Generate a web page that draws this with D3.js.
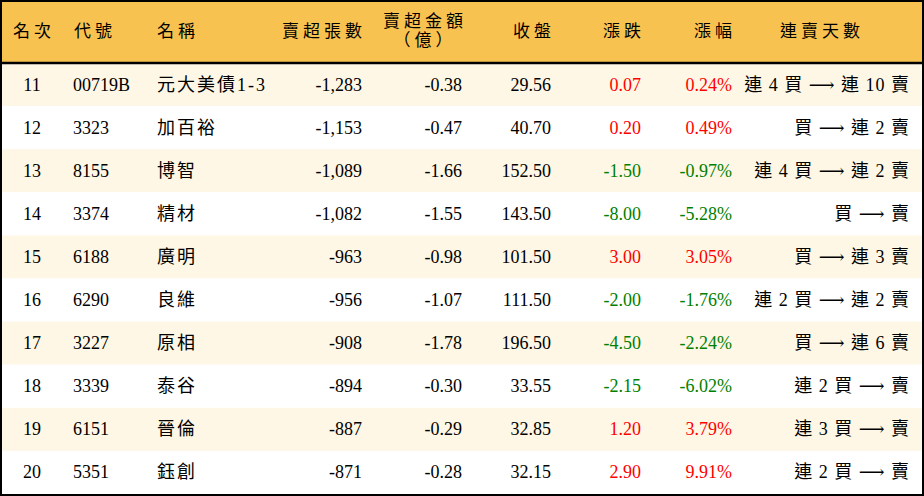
<!DOCTYPE html>
<html><head><meta charset="utf-8">
<script src="https://cdn.jsdelivr.net/npm/d3@7"></script>
<style>body{margin:0;background:#fff}</style>
</head><body><svg id="c" width="924" height="496"></svg>
<script>
const ranks = [11,12,13,14,15,16,17,18,19,20];
const codes = ["00719B","3323","8155","3374","6188","6290","3227","3339","6151","5351"];
const names = ["元大美債1-3","加百裕","博智","精材","廣明","良維","原相","泰谷","晉倫","鈺創"];
const sellLots = ["-1,283","-1,153","-1,089","-1,082","-963","-956","-908","-894","-887","-871"];
const sellAmt = ["-0.38","-0.47","-1.66","-1.55","-0.98","-1.07","-1.78","-0.30","-0.29","-0.28"];
const closes = ["29.56","40.70","152.50","143.50","101.50","111.50","196.50","33.55","32.85","32.15"];
const changes = [0.07,0.20,-1.50,-8.00,3.00,-2.00,-4.50,-2.15,1.20,2.90];
const pcts = [0.24,0.49,-0.97,-5.28,3.05,-1.76,-2.24,-6.02,3.79,9.91];
const streaks = ["連 4 買 ⟶ 連 10 賣","買 ⟶ 連 2 賣","連 4 買 ⟶ 連 2 賣","買 ⟶ 賣","買 ⟶ 連 3 賣","連 2 買 ⟶ 連 2 賣","買 ⟶ 連 6 賣","連 2 買 ⟶ 賣","連 3 買 ⟶ 賣","連 2 買 ⟶ 賣"];

const W = 924, H = 496, headH = 63;
const svg = d3.select("#c");
const font = "'Liberation Serif','DejaVu Serif','Noto Sans CJK TC',serif";
const y = d3.scaleBand().domain(ranks).range([headH, H - 2]);

svg.append("rect").attr("width", W).attr("height", headH).attr("fill", "#F8C250");
svg.selectAll("rect.row").data(ranks).join("rect")
  .attr("x", 0).attr("y", d => y(d)).attr("width", W).attr("height", y.bandwidth())
  .attr("fill", (d, i) => i % 2 ? "#fff" : "#FEF7E6");
svg.append("line").attr("x1", 0).attr("x2", W).attr("y1", headH).attr("y2", headH)
  .attr("stroke", "#000").attr("stroke-width", 2.5);
svg.append("rect").attr("x", 1).attr("y", 1).attr("width", W - 2).attr("height", H - 2)
  .attr("fill", "none").attr("stroke", "#000").attr("stroke-width", 2);

const col = (d) => d >= 0 ? "#FF0000" : "#008000";
const cols = [
  {h: ["名次"], hx: 34, ha: "middle", x: 32, a: "middle", v: i => ranks[i]},
  {h: ["代號"], hx: 74, ha: "start", x: 73, a: "start", v: i => codes[i]},
  {h: ["名稱"], hx: 157, ha: "start", x: 157, a: "start", v: i => names[i], ls: 2},
  {h: ["賣超張數"], hx: 366, ha: "end", x: 362, a: "end", v: i => sellLots[i]},
  {h: ["賣超金額", "（億）"], hx: 425, ha: "middle", x: 462, a: "end", v: i => sellAmt[i]},
  {h: ["收盤"], hx: 555, ha: "end", x: 551, a: "end", v: i => closes[i]},
  {h: ["漲跌"], hx: 645, ha: "end", x: 641, a: "end", v: i => changes[i].toFixed(2), c: i => col(changes[i])},
  {h: ["漲幅"], hx: 736, ha: "end", x: 732, a: "end", v: i => pcts[i].toFixed(2) + "%", c: i => col(pcts[i])},
  {h: ["連賣天數"], hx: 822, ha: "middle", x: 910, a: "end", v: i => streaks[i], ls: 1}
];

cols.forEach(c => {
  c.h.forEach((t, k) => {
    svg.append("text").attr("x", c.hx)
      .attr("y", c.h.length > 1 ? 27 + k * 19 : 37)
      .attr("text-anchor", c.ha).attr("font-family", font).attr("font-size", 17)
      .attr("letter-spacing", 4).attr("fill", "#000").text(t);
  });
  svg.selectAll(null).data(ranks).join("text")
    .attr("x", c.x).attr("y", d => y(d) + y.bandwidth() / 2 + 6)
    .attr("text-anchor", c.a).attr("font-family", font).attr("font-size", 18)
    .attr("letter-spacing", c.ls || 0)
    .attr("fill", (d, i) => c.c ? c.c(i) : "#000")
    .text((d, i) => c.v(i));
});
</script></body></html>
